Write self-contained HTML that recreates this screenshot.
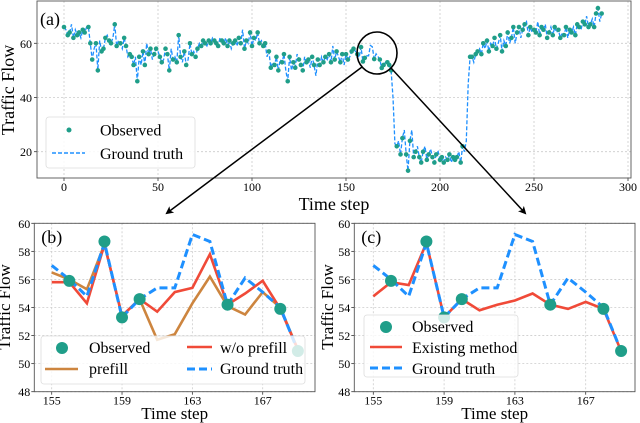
<!DOCTYPE html>
<html><head><meta charset="utf-8">
<style>
html,body{margin:0;padding:0;background:#fff;}
svg{display:block;font-family:"Liberation Serif",serif;}
</style></head>
<body>
<svg id="chart" width="640" height="423" viewBox="0 0 640 423" xmlns="http://www.w3.org/2000/svg">
<defs>
<marker id="arr" markerWidth="8" markerHeight="8" refX="6" refY="4" orient="auto" markerUnits="userSpaceOnUse"><path d="M0,0 L8,4 L0,8 L2,4 Z" fill="#000"/></marker>
</defs>
<g id="topPanel"></g>
<g id="pb"></g>
<g id="pc"></g>
<g id="zoomg"></g>
</svg>
<script>
const gtTop = [66,65,63,64,67,62,65,63,64,62,
65,64,66,66,60,54,58,60,50,61,
57,58,62,63,61,60,62,67,59,61,
60,58,62,59,55,56,55,52,55,46,
55,52,57,52,60,56,58,54,56,58,
57,55,53,54,58,56,50,58,54,55,
53,63,55,53,57,52,54,60,56,57,
55,58,60,59,61,60,59,61,60,62,
61,60,59,62,61,60,62,59,61,58,
60,61,59,62,60,65,58,61,60,64,
59,62,61,64,60,61,59,60,55,57,
51,53,52,55,50,54,53,56,50,46,
55,50,53,51,56,54,52,50,55,53,
54,51,55,52,48,54,52,55,53,55,
54,56,53,59,54,57,55,53,56,52,
56,54,55,57,58,57,56,54.8,58.6,53.3,
54.6,55.4,55.4,59.2,58.7,54.2,56.1,55.1,54,50.9,
52,53,53,52,50,40,23,22,24,19,
25,28,19,13,24,28,18,20,22,18,
16,20,22,17,19,21,18,16,19,20,
17,18,16,18,17,19,16,18,17,18,
20,16,22,20,24,45,55,55,53,56,
57,58,56,60,58,61,57,60,59,62,
58,60,63,57,61,59,64,60,62,66,
60,64,66,62,65,67,68,63,66,64,
65,64,68,63,66,65,67,62,64,66,
63,66,64,65,62,64,63,66,62,65,
64,66,63,67,66,65,68,67,70,66,
67,69,66,71,73,68,71];
const missingTop = [1,4,6,9,12,16,19,23,26,29,31,34,38,41,44,47,50,53,57,59,63,66,69,72,76,79,83,86,89,92,95,98,102,105,108,111,115,118,121,124,128,131,134,137,140,143,146,149,152,155,157,161,162,163,164,166,167,171,175,176,178,181,185,188,192,195,199,203,206,210,213,214,215,218,221,224,227,231,234,237,240,243,246,249,252,256,259,262,265,268,271,275,278,281,285];
const xTicksTop = [0,50,100,150,200,250,300];
const yTicksTop = [20,40,60];

const tZ = [155,156,157,158,159,160,161,162,163,164,165,166,167,168,169];
const gtZ = [57,56,54.8,58.6,53.3,54.6,55.4,55.4,59.2,58.7,54.2,56.1,55.1,54,50.9];
const obsT = [156,158,159,160,165,168,169];
const obsV = [55.9,58.7,53.3,54.6,54.2,53.9,50.9];
const woPrefill = [55.8,55.8,54.3,58.5,53.4,54.6,53.7,55.1,55.4,57.8,54.2,55,55.9,53.9,51];
const prefill = [56.5,56,55.3,58.5,53.4,54.6,51.7,52.1,54.3,56.2,54.1,53.5,55.1,54,51];
const existing = [54.8,55.8,55.6,58.6,53.3,54.6,53.8,54.2,54.5,55,54.2,53.9,54.4,53.9,50.9];
const xTicksZ = [155,159,163,167];
const yTicksZ = [48,50,52,54,56,58,60];

const NS="http://www.w3.org/2000/svg";
const TEAL="#1f9e89", BLUE="#1e90ff", RED="#f04a38", ORANGE="#cd853f";
function mk(parent,tag,attrs){const e=document.createElementNS(NS,tag);for(const k in attrs)e.setAttribute(k,attrs[k]);parent.appendChild(e);return e;}
function txt(parent,x,y,s,size,anchor,name){const t=mk(parent,'text',{x:x,y:y,'font-size':size,'text-anchor':anchor||'start',fill:'#000'});t.textContent=s;


return t;}

/* ---------- top panel ---------- */
const topG=document.getElementById('topPanel');
const TX0=37,TX1=631,TY0=1,TY1=178;
const xT=v=>64+v*(628-64)/300;
const yT=v=>43.3+(60-v)*(151.7-43.3)/40;
mk(topG,'rect',{x:TX0,y:TY0,width:TX1-TX0,height:TY1-TY0,fill:'#fff'});
xTicksTop.forEach(v=>{const l=mk(topG,'line',{x1:xT(v),x2:xT(v),y1:TY0,y2:TY1,stroke:'#ccc','stroke-width':0.8,'stroke-dasharray':'2,2'});


mk(topG,'line',{x1:xT(v),x2:xT(v),y1:TY1,y2:TY1+3,stroke:'#333','stroke-width':0.8});
txt(topG,xT(v),191,String(v),12,'middle','x-tick-label');});
yTicksTop.forEach(v=>{const l=mk(topG,'line',{x1:TX0,x2:TX1,y1:yT(v),y2:yT(v),stroke:'#ccc','stroke-width':0.8,'stroke-dasharray':'2,2'});


mk(topG,'line',{x1:TX0-3,x2:TX0,y1:yT(v),y2:yT(v),stroke:'#333','stroke-width':0.8});
txt(topG,TX0-5,yT(v)+4.5,String(v),12,'end','y-tick-label');});
let d='';gtTop.forEach((v,i)=>{d+=(i?'L':'M')+xT(i).toFixed(1)+','+yT(v).toFixed(1);});
const gl=mk(topG,'path',{d:d,fill:'none',stroke:BLUE,'stroke-width':1.3,'stroke-dasharray':'4,2'});


const obsG=mk(topG,'g',{});


gtTop.forEach((v,i)=>{if(missingTop.indexOf(i)>=0)return;const c=mk(obsG,'circle',{cx:xT(i),cy:yT(v),r:2.3,fill:TEAL});

});
mk(topG,'rect',{x:TX0,y:TY0,width:TX1-TX0,height:TY1-TY0,fill:'none',stroke:'#555','stroke-width':0.9});
txt(topG,40,25,'(a)',18,'start','panel-label-a');
const lgA=mk(topG,'g',{});


mk(lgA,'rect',{x:46,y:117,width:149,height:51,rx:3,fill:'rgba(255,255,255,0.85)',stroke:'#ddd','stroke-width':0.8});
mk(lgA,'circle',{cx:69,cy:130,r:2.5,fill:TEAL});
txt(lgA,100,135.5,'Observed',16,'start','legend-observed');
mk(lgA,'line',{x1:52,x2:85,y1:153,y2:153,stroke:BLUE,'stroke-width':1.5,'stroke-dasharray':'4,2'});
txt(lgA,100,159,'Ground truth',16,'start','legend-ground-truth');
txt(topG,334,210,'Time step',18,'middle','x-axis-title-a');
const ya=txt(topG,0,0,'Traffic Flow',18,'middle','y-axis-title-a');ya.setAttribute('transform','translate(14,90) rotate(-90)');

/* ---------- zoom panels ---------- */
function panel(g,X0,X1,x155,x167,label,series,legend,ytx){
  const Y0=223.3,Y1=391.7;
  const xs=v=>x155+(v-155)*(x167-x155)/12;
  const ys=v=>Y0+(60-v)*(Y1-Y0)/12;
  xTicksZ.forEach(v=>{const l=mk(g,'line',{x1:xs(v),x2:xs(v),y1:Y0,y2:Y1,stroke:'#ccc','stroke-width':0.8,'stroke-dasharray':'2,2'});
  
  
  mk(g,'line',{x1:xs(v),x2:xs(v),y1:Y1,y2:Y1+3,stroke:'#333','stroke-width':0.8});
  txt(g,xs(v),404.5,String(v),12,'middle','x-tick-label');});
  yTicksZ.forEach(v=>{const l=mk(g,'line',{x1:X0,x2:X1,y1:ys(v),y2:ys(v),stroke:'#ccc','stroke-width':0.8,'stroke-dasharray':'2,2'});
  
  
  mk(g,'line',{x1:X0-3,x2:X0,y1:ys(v),y2:ys(v),stroke:'#333','stroke-width':0.8});
  txt(g,X0-4,ys(v)+4.5,String(v),12,'end','y-tick-label');});
  series.forEach(s=>{let p='';s.v.forEach((v,i)=>{p+=(i?'L':'M')+xs(tZ[i]).toFixed(1)+','+ys(v).toFixed(1);});
    const a={d:p,fill:'none',stroke:s.c,'stroke-width':s.w};if(s.dash)a['stroke-dasharray']=s.dash;
    const e=mk(g,'path',a);
    
    });
  obsT.forEach((t,i)=>{const c=mk(g,'circle',{cx:xs(t),cy:ys(obsV[i]),r:6,fill:TEAL});
  
  });
  legend(g);
  mk(g,'rect',{x:X0,y:Y0,width:X1-X0,height:Y1-Y0,fill:'none',stroke:'#555','stroke-width':0.9});
  txt(g,X0+7,243,label,18,'start','panel-label');
  txt(g,(X0+X1)/2,419,'Time step',17,'middle','x-axis-title');
  const yt=txt(g,0,0,'Traffic Flow',17,'middle','y-axis-title');yt.setAttribute('transform','translate('+ytx+',307) rotate(-90)');
}
const gtS={v:gtZ,c:BLUE,w:3,dash:'8,4',n:'ground-truth-line'};
panel(document.getElementById('pb'),34.3,315,51.7,262.7,'(b)',
 [{v:prefill,c:ORANGE,w:2.6,n:'prefill-line'},{v:woPrefill,c:RED,w:2.6,n:'wo-prefill-line'},gtS],
 g=>{const L=mk(g,'g',{});
 
 
 mk(L,'rect',{x:41,y:336,width:264,height:48,rx:3,fill:'rgba(255,255,255,0.8)',stroke:'#ddd','stroke-width':0.8});
 mk(L,'circle',{cx:62,cy:348,r:6,fill:TEAL});
 txt(L,89,353,'Observed',16,'start','legend-observed');
 mk(L,'line',{x1:187,x2:212,y1:347,y2:347,stroke:RED,'stroke-width':2.6});
 txt(L,220,353,'w/o prefill',16,'start','legend-wo-prefill');
 mk(L,'line',{x1:45,x2:78,y1:369,y2:369,stroke:ORANGE,'stroke-width':2.6});
 txt(L,89,374,'prefill',16,'start','legend-prefill');
 mk(L,'line',{x1:187,x2:212,y1:369,y2:369,stroke:BLUE,'stroke-width':3,'stroke-dasharray':'8,4'});
 txt(L,220,374,'Ground truth',16,'start','legend-ground-truth');},10);
panel(document.getElementById('pc'),354.3,635,373.3,585.7,'(c)',
 [{v:existing,c:RED,w:2.6,n:'existing-method-line'},gtS],
 g=>{const L=mk(g,'g',{});
 
 
 mk(L,'rect',{x:364,y:315,width:154,height:62,rx:3,fill:'rgba(255,255,255,0.8)',stroke:'#ddd','stroke-width':0.8});
 mk(L,'circle',{cx:386,cy:327,r:6,fill:TEAL});
 txt(L,412,332,'Observed',16,'start','legend-observed');
 mk(L,'line',{x1:370,x2:402,y1:347,y2:347,stroke:RED,'stroke-width':2.6});
 txt(L,412,353,'Existing method',16,'start','legend-existing-method');
 mk(L,'line',{x1:370,x2:402,y1:368,y2:368,stroke:BLUE,'stroke-width':3,'stroke-dasharray':'8,4'});
 txt(L,412,374,'Ground truth',16,'start','legend-ground-truth');},333);

/* ---------- zoom annotation ---------- */
const zg=document.getElementById('zoomg');
const el=mk(zg,'ellipse',{cx:377,cy:53,rx:20,ry:21,fill:'none',stroke:'#000','stroke-width':1.6});


const a1=mk(zg,'line',{x1:362,y1:67,x2:167,y2:213,stroke:'#000','stroke-width':1.5,'marker-end':'url(#arr)'});


const a2=mk(zg,'line',{x1:391,y1:68,x2:525,y2:213,stroke:'#000','stroke-width':1.5,'marker-end':'url(#arr)'});


</script>
</body></html>
